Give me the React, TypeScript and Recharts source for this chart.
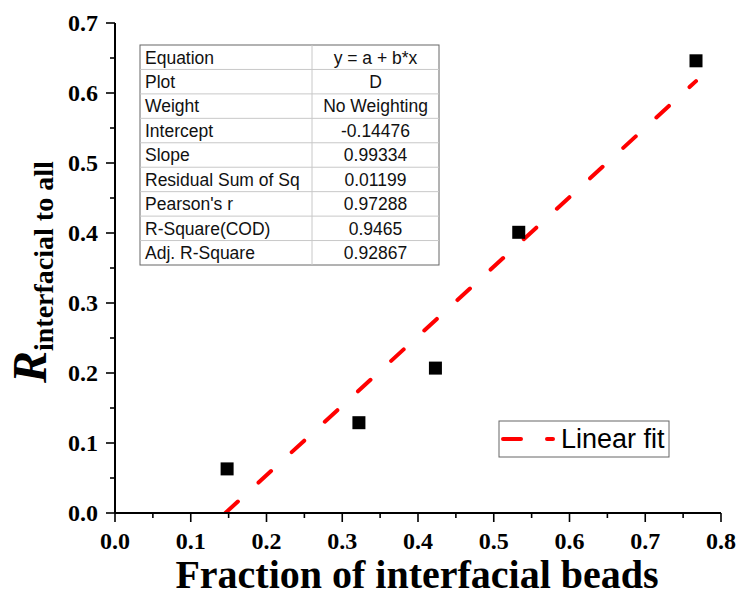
import React from 'react';
import { ComposedChart, Scatter, Line, XAxis, YAxis, Customized } from 'recharts';

const fractionX = [0.148, 0.322, 0.423, 0.533, 0.767];
const ratioY = [0.063, 0.129, 0.207, 0.401, 0.646];
const fitX = [0.1457, 0.767];
const fitY = [0, 0.617];
const xTicks = [0, 0.05, 0.1, 0.15, 0.2, 0.25, 0.3, 0.35, 0.4, 0.45, 0.5, 0.55, 0.6, 0.65, 0.7, 0.75, 0.8];
const yTicks = [0, 0.05, 0.1, 0.15, 0.2, 0.25, 0.3, 0.35, 0.4, 0.45, 0.5, 0.55, 0.6, 0.65, 0.7];
const tableLabels = ['Equation', 'Plot', 'Weight', 'Intercept', 'Slope', 'Residual Sum of Sq', "Pearson's r", 'R-Square(COD)', 'Adj. R-Square'];
const tableValues = ['y = a + b*x', 'D', 'No Weighting', '-0.14476', '0.99334', '0.01199', '0.97288', '0.9465', '0.92867'];
const legendLabel = 'Linear fit';
const xTitle = 'Fraction of interfacial beads';
const yTitleMain = 'R';
const yTitleSub = 'interfacial to all';

const points = fractionX.map((x, i) => ({ x, y: ratioY[i] }));
const fit = fitX.map((x, i) => ({ x, y: fitY[i] }));

const SERIF = "'Liberation Serif', 'Times New Roman', Times, serif";
const SANS = "'Liberation Sans', Arial, Helvetica, sans-serif";
const isMajor = (v: number) => Math.round(v * 100) % 10 === 0;

const XTick = (props: any) => {
  const { x, y, payload } = props;
  const major = isMajor(payload.value);
  return (
    <g>
      <line x1={x} x2={x} y1={y} y2={y + (major ? 9 : 5)} stroke="#000" strokeWidth={1.6} />
      {major && (
        <text x={x} y={y + 36} textAnchor="middle" fontFamily={SERIF} fontWeight="bold" fontSize={24} fill="#000">
          {payload.value.toFixed(1)}
        </text>
      )}
    </g>
  );
};

const YTick = (props: any) => {
  const { x, y, payload } = props;
  const major = isMajor(payload.value);
  return (
    <g>
      <line x1={x} x2={x - (major ? 9 : 5)} y1={y} y2={y} stroke="#000" strokeWidth={1.6} />
      {major && (
        <text x={x - 17} y={y + 8} textAnchor="end" fontFamily={SERIF} fontWeight="bold" fontSize={24} fill="#000">
          {payload.value.toFixed(1)}
        </text>
      )}
    </g>
  );
};

const Square = (props: any) => {
  const { cx, cy } = props;
  return <rect x={cx - 6.5} y={cy - 6.5} width={13} height={13} fill="#000" />;
};

const Decorations = () => {
  const left = 140, top = 45, colX = 312, right = 439, bottom = 265;
  const rowH = (bottom - top) / tableLabels.length;
  return (
    <g>
      <rect x={left} y={top} width={right - left} height={bottom - top} fill="#fff" stroke="#666" strokeWidth={1} />
      {tableLabels.slice(1).map((_, i) => (
        <line key={'r' + i} x1={left} x2={right} y1={top + rowH * (i + 1)} y2={top + rowH * (i + 1)} stroke="#c8c8c8" strokeWidth={1} />
      ))}
      <line x1={colX} x2={colX} y1={top} y2={bottom} stroke="#c8c8c8" strokeWidth={1} />
      {tableLabels.map((t, i) => (
        <text key={'l' + i} x={left + 5} y={top + rowH * i + 18.5} fontFamily={SANS} fontSize={17.5} fill="#111">{t}</text>
      ))}
      {tableValues.map((t, i) => (
        <text key={'v' + i} x={(colX + right) / 2} y={top + rowH * i + 18.5} textAnchor="middle" fontFamily={SANS} fontSize={17.5} fill="#111">{t}</text>
      ))}

      <rect x={499} y={421} width={170} height={36} fill="#fff" stroke="#666" strokeWidth={1} />
      <line x1={503} x2={553} y1={439} y2={439} stroke="#ff0000" strokeWidth={4} strokeLinecap="round" strokeDasharray="18 26" />
      <text x={561} y={448} fontFamily={SANS} fontSize={27} fill="#000">{legendLabel}</text>

      <text x={417} y={588} textAnchor="middle" fontFamily={SERIF} fontWeight="bold" fontSize={40} fill="#000">{xTitle}</text>
      <text transform="translate(46,383) rotate(-90)" fontFamily={SERIF} fontWeight="bold" fill="#000">
        <tspan fontStyle="italic" fontSize={48}>{yTitleMain}</tspan>
        <tspan fontSize={28} dy={7}>{yTitleSub}</tspan>
      </text>
    </g>
  );
};

export default function App() {
  return (
    <div style={{ position: 'absolute', left: 0, top: 0, width: 742, height: 597, background: '#fff' }}>
      <ComposedChart width={742} height={597} margin={{ top: 23, right: 21, left: 0, bottom: 0 }}>
        <XAxis
          dataKey="x" type="number" domain={[0, 0.8]} ticks={xTicks} interval={0}
          height={84} tickSize={0} tickMargin={0} tickLine={false}
          axisLine={{ stroke: '#000', strokeWidth: 2 }} tick={<XTick />} allowDataOverflow
        />
        <YAxis
          type="number" domain={[0, 0.7]} ticks={yTicks} interval={0}
          width={115} tickSize={0} tickMargin={0} tickLine={false}
          axisLine={{ stroke: '#000', strokeWidth: 2 }} tick={<YTick />} allowDataOverflow
        />
        <XAxis xAxisId="top" orientation="top" type="number" domain={[0, 0.8]} height={0} tick={false} tickLine={false} axisLine={{ stroke: '#000', strokeWidth: 2 }} />
        <YAxis yAxisId="right" orientation="right" type="number" domain={[0, 0.7]} width={0} tick={false} tickLine={false} axisLine={{ stroke: '#000', strokeWidth: 2 }} />
        <Customized component={Decorations} />
        <Line data={fit} dataKey="y" stroke="#ff0000" strokeWidth={4} strokeLinecap="round" strokeDasharray="17 28" dot={false} activeDot={false} isAnimationActive={false} legendType="none" />
        <Scatter data={points} dataKey="y" shape={<Square />} isAnimationActive={false} />
      </ComposedChart>
    </div>
  );
}
